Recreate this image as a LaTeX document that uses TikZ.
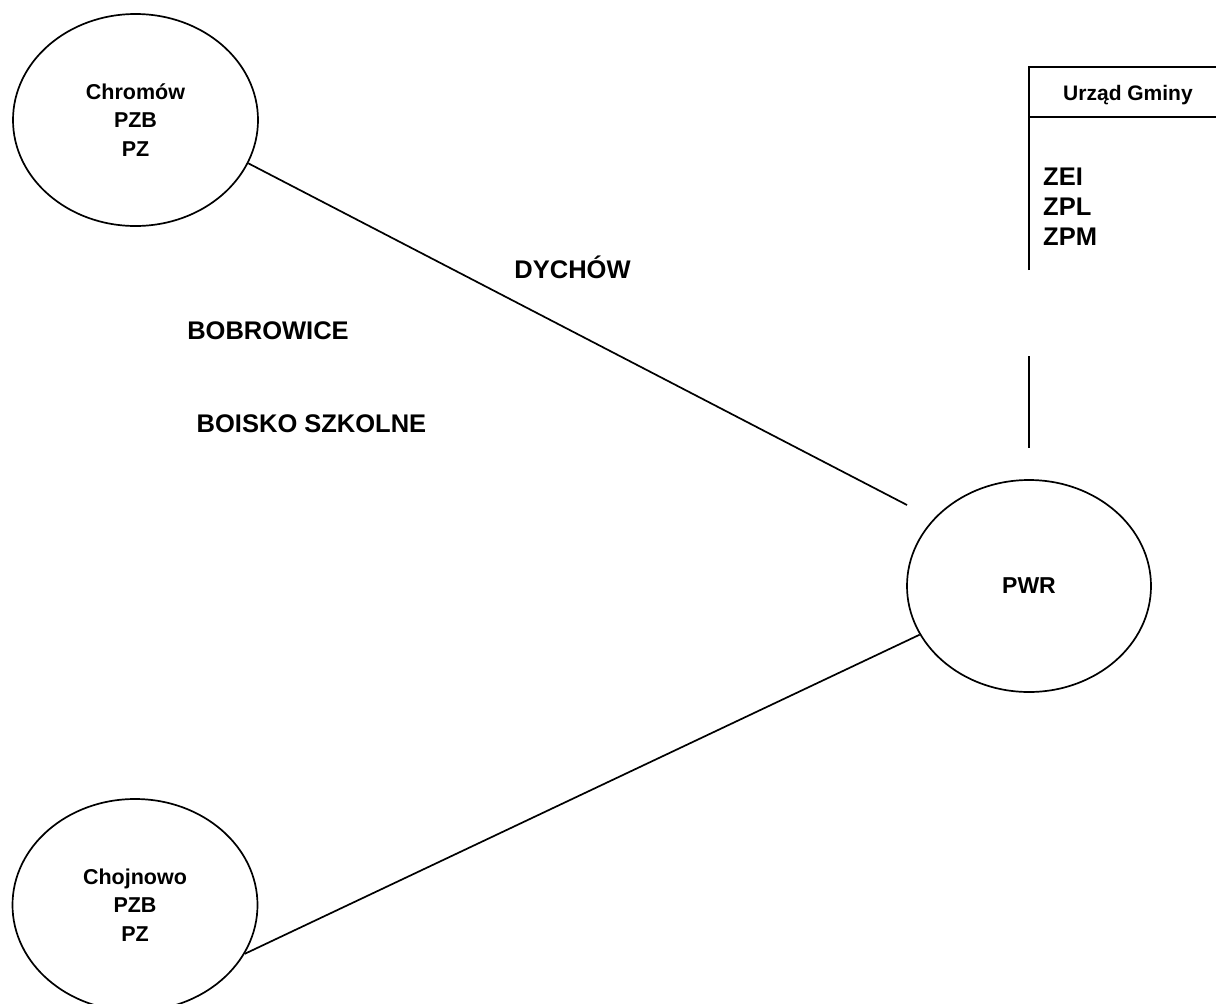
\documentclass[tikz,border=0pt]{standalone}
\usepackage{fontspec}
\setmainfont{Liberation Sans}
\usetikzlibrary{shapes.geometric}
\begin{document}
\begin{tikzpicture}[x=1pt,y=-1pt,
  conn/.style={line width=1.7pt},
  town/.style={draw, ellipse, line width=1.7pt, minimum width=245pt, minimum height=212pt,
    inner sep=0pt, align=center, font=\fontsize{21.5}{28.5}\selectfont\bfseries},
  lbl/.style={anchor=base, inner sep=0pt, font=\fontsize{25.5}{30}\selectfont\bfseries},
  small/.style={anchor=base, inner sep=0pt, font=\fontsize{21}{25}\selectfont\bfseries}]
\useasboundingbox (0,0) rectangle (1216,1004);

% ellipses
\node[town] (chromow) at (135.5,120) {Chromów\\PZB\\PZ};
\node[town] (chojnowo) at (135,905) {Chojnowo\\PZB\\PZ};
\node[town, minimum width=244pt, font=\fontsize{23}{28}\selectfont\bfseries] (pwr) at (1029,586) {PWR};

% labels
\node[lbl] (dychow) at (572.5,278) {DYCHÓW};
\node[lbl] (bobrowice) at (268,339) {BOBROWICE};
\node[lbl] (boisko) at (311.5,432) {BOISKO SZKOLNE};

% Urzad Gminy box
\coordinate (boxtl) at (1029,67);
\coordinate (boxtr) at (1216,67);
\coordinate (boxml) at (1029,117);
\coordinate (boxmr) at (1216,117);
\coordinate (boxbl) at (1029,270);
\draw[conn] (boxbl) -- (boxtl) -- (boxtr);
\draw[conn] (boxml) -- (boxmr);
\node[small] (urzad) at (1128,100) {Urząd Gminy};
\node[lbl, anchor=base west] (zei) at (1043,185) {ZEI};
\node[lbl, anchor=base west] (zpl) at (1043,215) {ZPL};
\node[lbl, anchor=base west] (zpm) at (1043,245) {ZPM};

% connectors
\coordinate (dychend) at (907,505);
\coordinate (vtop) at (1029,356);
\coordinate (vbot) at (1029,448);
\draw[conn] (chromow.-21.5) -- (dychend);
\draw[conn] (chojnowo.-24.5) -- (pwr.204.5);
\draw[conn] (vtop) -- (vbot);
\end{tikzpicture}
\end{document}
